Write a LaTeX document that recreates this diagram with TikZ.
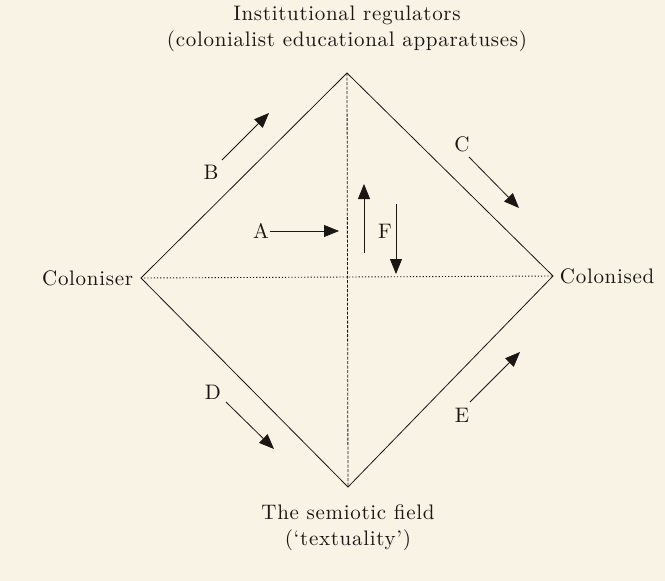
\documentclass[tikz,border=0pt]{standalone}
\usepackage{fontspec}
\usepackage{xcolor}
\usepackage{tikz}
\usetikzlibrary{arrows.meta}
\newfontfamily\lblfont{lmroman10-regular.otf}[LetterSpace=3.3, Ligatures=TeX]
\definecolor{paper}{RGB}{248, 243, 228}
\definecolor{ink}{RGB}{25, 22, 20}

\begin{document}
\begin{tikzpicture}[x=1pt,y=1pt,yscale=-1,xscale=1,
  lbl/.style={inner sep=0.75pt, text=ink, font=\lblfont\fontsize{21}{26}\selectfont},
  flow/.style={draw=ink, line width=0.8pt, -{Triangle[length=15pt,width=12pt]}}]
%set diagram size 665 x 581
\fill[paper] (0,0) rectangle (665,581);
\useasboundingbox (0,0) rectangle (665,581);

%Diamond corners
\coordinate (top) at (347,73);
\coordinate (lft) at (141,278);
\coordinate (rgt) at (553,276);
\coordinate (bot) at (348,487);

%Straight Lines 
\draw [ink, line width=0.8pt] (top) -- (rgt) -- (bot) -- (lft) -- cycle ;
%Straight Lines 
\draw [ink, line width=0.8pt, dash pattern={on 3pt off 1.5pt}] (top) -- (bot) ;
%Straight Lines 
\draw [ink, line width=0.9pt, dash pattern={on 1.2pt off 2pt}] (lft) -- (rgt) ;

%Arrow ends
\coordinate (b0) at (222,160);  \coordinate (b1) at (269,113);
\coordinate (a0) at (270,231);  \coordinate (a1) at (339,231);
\coordinate (f0) at (364,253);  \coordinate (f1) at (364,184);
\coordinate (f2) at (396,204);  \coordinate (f3) at (396,274);
\coordinate (c0) at (469,157);  \coordinate (c1) at (519,208);
\coordinate (d0) at (226,402);  \coordinate (d1) at (274,449);
\coordinate (e0) at (470,402);  \coordinate (e1) at (520,352);

%Arrows
\draw [flow] (b0) -- (b1) ;
\draw [flow] (a0) -- (a1) ;
\draw [flow] (f0) -- (f1) ;
\draw [flow] (f2) -- (f3) ;
\draw [flow] (c0) -- (c1) ;
\draw [flow] (d0) -- (d1) ;
\draw [flow] (e0) -- (e1) ;

% Text Node
\node (inst) at (347,29) [lbl, align=center] {Institutional regulators\\(colonialist educational apparatuses)};
% Text Node
\node (colr) at (134,278) [lbl, anchor=east] {Coloniser};
% Text Node
\node (cold) at (559,276) [lbl, anchor=west] {Colonised};
% Text Node
\node (semi) at (348,528) [lbl, align=center] {The semiotic field\\(`textuality')};
% Text Node
\node (la) at (261,231) [lbl] {A};
\node (lb) at (211,172) [lbl] {B};
\node (lc) at (462,144) [lbl] {C};
\node (ld) at (213,392) [lbl] {D};
\node (le) at (462,415) [lbl] {E};
\node (lf) at (385,231) [lbl] {F};

\end{tikzpicture}
\end{document}
